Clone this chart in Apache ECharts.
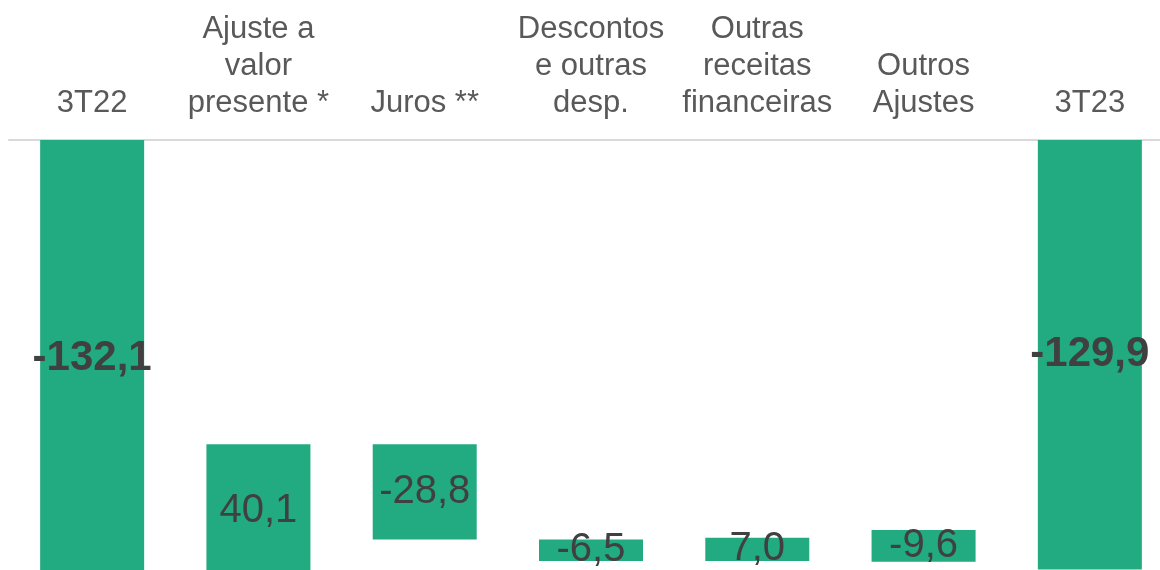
<!DOCTYPE html>
<html>
<head>
<meta charset="utf-8">
<script src="https://cdn.jsdelivr.net/npm/echarts@6/dist/echarts.min.js"></script>
<style>
  html, body { margin: 0; padding: 0; background: #fff; }
  #chart { width: 1160px; height: 570px; }
</style>
</head>
<body>
<div id="chart"></div>
<script>
  // waterfall data (R$ mi)
  const categories = ['3T22', 'Ajuste a\nvalor\npresente *', 'Juros **', 'Descontos\ne outras\ndesp.',
    'Outras\nreceitas\nfinanceiras', 'Outros\nAjustes', '3T23']
  const deltas = [-132.1, 40.1, -28.8, -6.5, 7.0, -9.6, -129.9]
  // where each floating bar starts
  const bases = [0, -92.0, -92.0, -120.8, -120.3, -117.9, 0]

  const chart = echarts.init(document.getElementById('chart'))

  chart.setOption({
    animation: false,
    textStyle: { fontFamily: 'Arial, "Liberation Sans", sans-serif' },
    grid: {
      left: 9,
      width: 1164,
      top: 140,
      height: 463,
      outerBoundsMode: 'none'
    },
    xAxis: {
      type: 'category',
      position: 'top',
      data: categories,
      axisLine: { lineStyle: { color: '#d9d9d9', width: 2 } },
      axisTick: { show: false },
      axisLabel: {
        interval: 0,
        color: '#595959',
        fontSize: 31,
        lineHeight: 37,
        margin: 18
      }
    },
    yAxis: {
      type: 'value',
      min: -140,
      max: 0,
      show: false,
      splitLine: { show: false }
    },
    series: [
      {
        name: 'base',
        type: 'bar',
        stack: 'w',
        barWidth: 104,
        itemStyle: { color: 'transparent' },
        data: bases
      },
      {
        name: 'valor',
        type: 'bar',
        stack: 'w',
        barWidth: 104,
        clip: false,
        itemStyle: { color: '#22AA80' },
        label: {
          show: true,
          position: 'inside',
          color: '#404040',
          fontSize: 40,
          formatter: p => deltas[p.dataIndex].toFixed(1).replace('.', ',')
        },
        data: deltas.map((v, i) => ({
          value: -Math.abs(v),
          label: (i === 0 || i === deltas.length - 1)
            ? { fontWeight: 'bold', fontSize: 42 }
            : { fontWeight: 'normal' }
        }))
      }
    ]
  })
</script>
</body>
</html>
